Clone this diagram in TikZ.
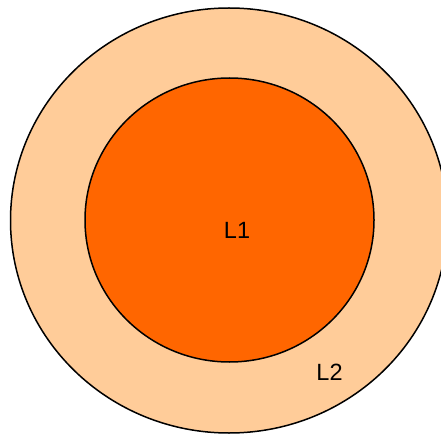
\documentclass[tikz,border=0pt]{standalone}
\usepackage{xcolor}
\usepackage{tikz}
\usepackage{fontspec}
\setmainfont{Liberation Sans}

\definecolor{ringlight}{HTML}{FFCC99}
\definecolor{ringdark}{HTML}{FF6600}

\begin{document}
\begin{tikzpicture}[x=1pt,y=1pt]
\useasboundingbox (0,0) rectangle (441,434);
\clip (0,0) rectangle (441,434);

% Outer layer
\draw[line width=1.5pt, fill=ringlight] (229,213.5) ellipse (218.5 and 212.5);

% Inner layer
\draw[line width=1.5pt, fill=ringdark] (229.5,214) ellipse (144.5 and 142);

% Labels
\node[font=\fontsize{23.5}{28}\selectfont] (lone) at (237,203.5) {L1};
\node[font=\fontsize{23.5}{28}\selectfont] (ltwo) at (329.5,62) {L2};

\end{tikzpicture}
\end{document}
